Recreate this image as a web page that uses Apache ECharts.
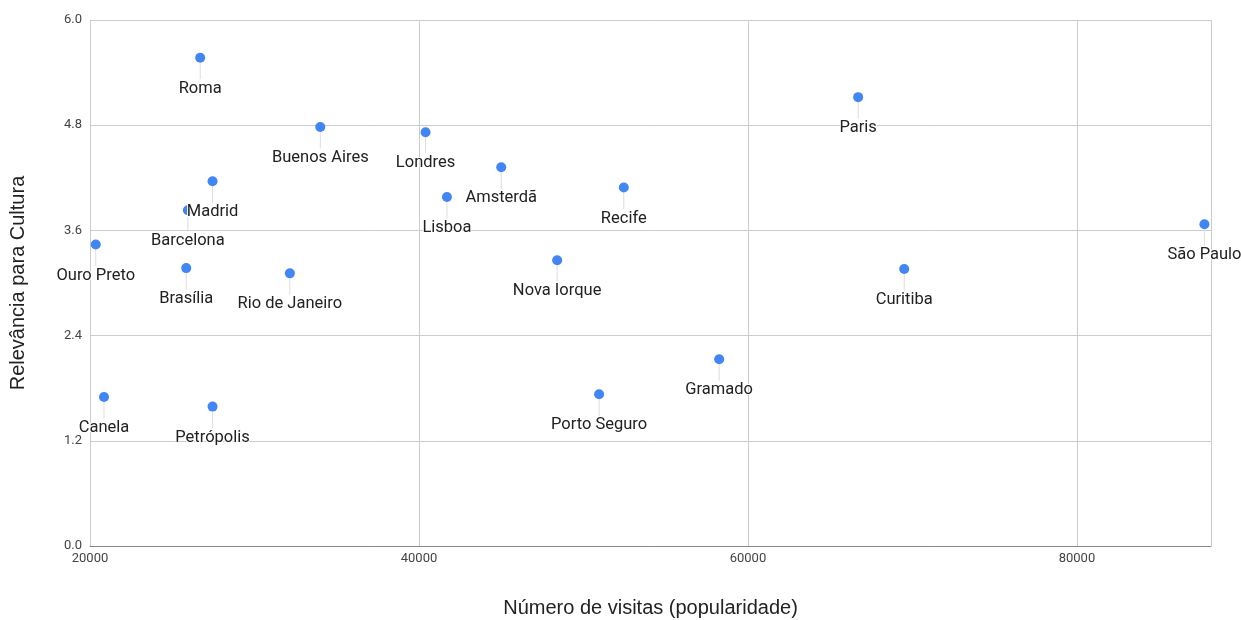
<!DOCTYPE html>
<html>
<head>
<meta charset="utf-8">
<script src="https://cdn.jsdelivr.net/npm/echarts@6/dist/echarts.min.js"></script>
<style>
  html, body { margin: 0; padding: 0; background: #fff; }
  #chart { width: 1241px; height: 620px; }
</style>
</head>
<body>
<div id="chart"></div>
<script>
// cidades e valores
const cities = ['Roma', 'Buenos Aires', 'Londres', 'Amsterdã', 'Lisboa', 'Recife', 'Paris', 'São Paulo',
  'Madrid', 'Barcelona', 'Ouro Preto', 'Brasília', 'Rio de Janeiro', 'Nova Iorque', 'Curitiba',
  'Gramado', 'Porto Seguro', 'Canela', 'Petrópolis']
const visits = [26700, 34000, 40400, 45000, 41700, 52450, 66700, 87750,
  27450, 25950, 20350, 25850, 32150, 48400, 69500,
  58250, 50950, 20850, 27450]
const culture = [5.57, 4.78, 4.72, 4.32, 3.98, 4.09, 5.12, 3.67,
  4.16, 3.83, 3.44, 3.17, 3.11, 3.26, 3.16,
  2.13, 1.73, 1.70, 1.59]
const yTicks = [0, 1.2, 2.4, 3.6, 4.8, 6.0]

const points = cities.map((name, i) => ({ name: name, value: [visits[i], culture[i]] }))

const titleFont = 'Liberation Sans'

const chart = echarts.init(document.getElementById('chart'))
chart.setOption({
  animation: false,
  textStyle: { fontFamily: 'Roboto' },
  grid: { left: 90, right: 30, top: 20, bottom: 74, outerBoundsMode: 'none', containLabel: false },
  xAxis: {
    type: 'value',
    min: 20000,
    max: 88150,
    interval: 20000,
    name: 'Número de visitas (popularidade)',
    nameLocation: 'middle',
    nameGap: 52,
    nameTextStyle: { fontSize: 20, color: '#222', fontFamily: titleFont },
    axisLine: { show: true, lineStyle: { color: '#888', width: 1 } },
    axisTick: { show: false },
    axisLabel: { color: '#444', fontSize: 13, margin: 6, showMaxLabel: false, formatter: v => String(v) },
    splitLine: { show: true, lineStyle: { color: '#ccc' } }
  },
  yAxis: {
    type: 'value',
    min: 0,
    max: 6,
    interval: 1.2,
    name: 'Relevância para Cultura',
    nameLocation: 'middle',
    nameGap: 62,
    nameTextStyle: { fontSize: 20, color: '#222', fontFamily: titleFont },
    axisLine: { show: false },
    axisTick: { show: false },
    axisLabel: {
      color: '#444',
      fontSize: 13,
      margin: 8,
      formatter: v => yTicks.indexOf(+v.toFixed(1)) >= 0 ? v.toFixed(1) : ''
    },
    splitLine: { show: true, lineStyle: { color: '#ccc' } }
  },
  series: [{
    type: 'scatter',
    symbolSize: 10,
    itemStyle: { color: '#4285f4', opacity: 1 },
    data: points,
    label: {
      show: true,
      position: 'inside',
      formatter: p => p.name,
      color: '#222',
      fontSize: 16.5,
      textBorderColor: '#fff',
      textBorderWidth: 2
    },
    labelLayout: { dy: 31 },
    labelLine: { show: true, lineStyle: { color: '#ddd', width: 1 } }
  }]
})
</script>
</body>
</html>
